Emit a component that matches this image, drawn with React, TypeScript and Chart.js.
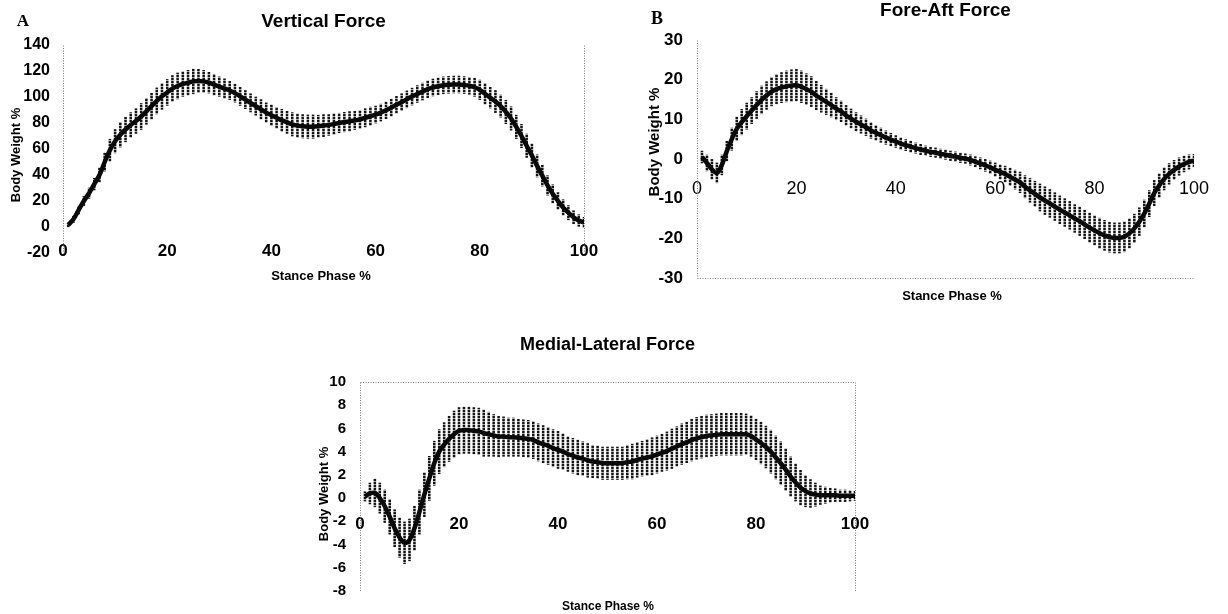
import React, { useEffect, useRef } from "react";
import { Chart, registerables } from "chart.js";

Chart.register(...registerables);

// Stance phase sample points (% of stance, 1% steps)
const stancePhase: number[] = Array.from({ length: 100 }, (_, i) => i + 1);

// Vertical ground reaction force, % body weight (mean and SD)
const verticalMean = [
  1.5, 6, 13, 20, 26, 33, 40, 50, 59, 66,
  71, 75, 78.5, 81.5, 85, 89, 93, 97, 100.5, 103.5,
  106.5, 108.5, 110, 111, 112, 112.3, 112, 111, 109.5, 108,
  106.5, 105, 103, 100.5, 98, 95.5, 93, 90.5, 88, 86,
  84, 82, 80.5, 79, 78, 77.5, 77.2, 77.2, 77.5, 78,
  78.5, 79.2, 80, 80.7, 81.3, 82, 82.7, 84, 85.2, 86.5,
  88, 89.8, 91.8, 94, 96, 98.2, 100.3, 102.3, 104.2, 106,
  107.3, 108.3, 109, 109.4, 109.6, 109.6, 109.2, 108.6, 107.5, 105.5,
  102.5, 99.5, 96.5, 93, 88.5, 83.5, 77, 70, 62.5, 55,
  47, 39.5, 32, 25.5, 20, 15, 11, 7.5, 5, 3.5,
];
const verticalSd = [
  1.5, 2.5, 3, 3.5, 4, 4.5, 5.5, 7, 8.5, 9,
  9.5, 9.5, 9.5, 9.5, 10, 10, 10, 10, 10, 10,
  10, 10, 9.5, 9.5, 9.5, 9, 8.5, 8, 8, 7.5,
  7.5, 7, 7, 7, 7, 7, 7, 7.5, 7.5, 8,
  8, 8.5, 8.5, 9, 9, 9, 9, 9, 8.5, 8.5,
  8, 8, 7.5, 7.5, 7.5, 7, 7, 7, 7, 6.5,
  6.5, 6.5, 6.5, 6.5, 6.5, 6.5, 6.5, 6.5, 6.5, 6.5,
  6.5, 6.5, 6.5, 6.5, 6.5, 6.5, 6.5, 6.5, 7, 7.5,
  8, 8, 8.5, 8.5, 9, 9, 9, 9, 9, 9,
  8.5, 8, 7.5, 7, 6.5, 6, 5.5, 5, 4.5, 4,
];

// Fore-aft ground reaction force, % body weight (mean and SD)
const foreAftMean = [
  0.5, -1, -2.6, -3.5, -1.5, 2, 5, 7.6, 9.3, 10.8,
  12.2, 13.6, 14.9, 16, 17, 17.6, 18, 18.3, 18.5, 18.6,
  18.2, 17.6, 17, 16, 15.2, 14.4, 13.6, 12.7, 12, 11,
  10.2, 9.4, 8.7, 8, 7.2, 6.6, 6, 5.4, 4.9, 4.4,
  3.9, 3.5, 3.1, 2.75, 2.4, 2.1, 1.8, 1.6, 1.3, 1.1,
  0.8, 0.6, 0.3, 0.1, -0.25, -0.7, -1.1, -1.6, -2.1, -2.7,
  -3.25, -3.8, -4.5, -5.2, -5.9, -7, -7.9, -8.8, -9.7, -10.5,
  -11.2, -12, -12.8, -13.5, -14.2, -15, -15.7, -16.5, -17.3, -18,
  -18.7, -19.25, -19.7, -19.9, -19.9, -19.6, -18.75, -17.5, -15.8, -13.75,
  -11.25, -8.6, -6.7, -5, -3.75, -2.75, -1.9, -1.25, -0.75, -0.4,
];
const foreAftSd = [
  1.5, 2, 2.5, 2.5, 2.5, 2.5, 2.8, 3, 3.2, 3.3,
  3.3, 3.4, 3.5, 3.5, 3.6, 3.7, 3.8, 3.9, 4, 4,
  4, 3.9, 3.8, 3.6, 3.4, 3.2, 3, 2.8, 2.6, 2.5,
  2.4, 2.3, 2.2, 2.1, 2, 1.9, 1.8, 1.7, 1.6, 1.5,
  1.5, 1.4, 1.4, 1.3, 1.3, 1.2, 1.2, 1.2, 1.2, 1.2,
  1.2, 1.2, 1.2, 1.2, 1.3, 1.3, 1.4, 1.5, 1.6, 1.7,
  1.8, 2, 2.2, 2.4, 2.6, 2.8, 3, 3.2, 3.4, 3.5,
  3.5, 3.5, 3.5, 3.5, 3.5, 3.5, 3.6, 3.6, 3.7, 3.7,
  3.8, 3.8, 3.8, 3.8, 3.8, 3.8, 3.7, 3.6, 3.5, 3.4,
  3.3, 3.2, 3, 2.8, 2.6, 2.4, 2.2, 2, 1.8, 1.6,
];

// Medial-lateral ground reaction force, % body weight (mean and SD)
const medialLateralMean = [
  0.15, 0.4, 0.45, 0, -0.7, -1.6, -2.6, -3.4, -3.85, -3.6,
  -2.6, -1.2, 0.3, 1.7, 3, 4, 4.6, 5.1, 5.5, 5.8,
  5.85, 5.85, 5.8, 5.75, 5.6, 5.5, 5.4, 5.3, 5.3, 5.25,
  5.25, 5.2, 5.15, 5.1, 5, 4.8, 4.65, 4.5, 4.3, 4.15,
  4, 3.8, 3.65, 3.5, 3.4, 3.25, 3.15, 3.1, 3, 3,
  3, 3, 3, 3.1, 3.15, 3.3, 3.4, 3.5, 3.6, 3.75,
  3.9, 4.05, 4.25, 4.45, 4.65, 4.8, 5, 5.15, 5.25, 5.35,
  5.4, 5.45, 5.5, 5.5, 5.5, 5.5, 5.5, 5.5, 5.35, 5.05,
  4.75, 4.4, 4, 3.5, 3, 2.45, 1.85, 1.35, 0.9, 0.6,
  0.4, 0.3, 0.25, 0.25, 0.25, 0.25, 0.2, 0.2, 0.2, 0.2,
];
const medialLateralSd = [
  0.4, 0.9, 1.2, 1.3, 1.4, 1.5, 1.6, 1.7, 1.8, 1.8,
  1.9, 1.9, 1.9, 1.9, 1.9, 1.9, 1.9, 1.95, 2, 2,
  2, 2, 2, 2, 2, 1.9, 1.8, 1.75, 1.7, 1.65,
  1.65, 1.6, 1.6, 1.6, 1.6, 1.6, 1.6, 1.6, 1.6, 1.6,
  1.55, 1.5, 1.5, 1.5, 1.45, 1.45, 1.4, 1.4, 1.4, 1.4,
  1.4, 1.4, 1.4, 1.45, 1.5, 1.5, 1.5, 1.55, 1.6, 1.6,
  1.6, 1.65, 1.7, 1.7, 1.75, 1.75, 1.8, 1.8, 1.8, 1.8,
  1.8, 1.8, 1.8, 1.8, 1.8, 1.8, 1.8, 1.75, 1.75, 1.75,
  1.8, 1.8, 1.85, 1.85, 1.85, 1.8, 1.7, 1.6, 1.5, 1.35,
  1.2, 1, 0.8, 0.7, 0.6, 0.55, 0.5, 0.5, 0.45, 0.4,
];

// Axis ranges and tick steps
const stanceTicks = { min: 0, max: 100, step: 20 };
const verticalTicks = { min: -20, max: 140, step: 20 };
const foreAftTicks = { min: -30, max: 30, step: 10 };
const medialLateralTicks = { min: -8, max: 10, step: 2 };

const SANS = "'Liberation Sans', Arial, Helvetica, sans-serif";
const SERIF = "'Liberation Serif', 'Times New Roman', serif";

type PanelSpec = {
  key: string;
  title: string;
  letter?: string;
  mean: number[];
  sd: number[];
  yRange: { min: number; max: number; step: number };
  box: { left: number; top: number; width: number; height: number };
  yAxisWidth: number;
  padRight: number;
  padBottom: number;
  titleFont: number;
  titleLineHeight: number;
  titlePad: { top: number; bottom: number };
  yTickFont: { size: number; weight: string };
  yTickPad: number;
  xTickFont: { size: number; weight: string };
  xTickPad: number;
  letterPos?: { x: number; y: number; size: number };
  yTitlePos: { x: number; y: number; size: number };
  xTitlePos: { x: number; y: number; size: number };
  frameSides: string[];
};

const panels: PanelSpec[] = [
  {
    key: "vertical",
    title: "Vertical Force",
    letter: "A",
    mean: verticalMean,
    sd: verticalSd,
    yRange: verticalTicks,
    box: { left: 0, top: 0, width: 620, height: 300 },
    yAxisWidth: 63,
    padRight: 36,
    padBottom: 47,
    titleFont: 19,
    titleLineHeight: 1.2,
    titlePad: { top: 10.6, bottom: 11.6 },
    yTickFont: { size: 16, weight: "bold" },
    yTickPad: 13,
    xTickFont: { size: 17, weight: "bold" },
    xTickPad: 14,
    letterPos: { x: 23, y: 22, size: 17 },
    yTitlePos: { x: 16, y: 155, size: 13 },
    xTitlePos: { x: 321, y: 276, size: 13 },
    frameSides: ["left", "right"],
  },
  {
    key: "foreaft",
    title: "Fore-Aft Force",
    letter: "B",
    mean: foreAftMean,
    sd: foreAftSd,
    yRange: foreAftTicks,
    box: { left: 620, top: 0, width: 608, height: 310 },
    yAxisWidth: 77,
    padRight: 20,
    padBottom: 32,
    titleFont: 19,
    titleLineHeight: 1,
    titlePad: { top: 1.5, bottom: 19.5 },
    yTickFont: { size: 17, weight: "bold" },
    yTickPad: 14,
    xTickFont: { size: 18, weight: "normal" },
    xTickPad: 19,
    letterPos: { x: 37, y: 19, size: 18 },
    yTitlePos: { x: 35, y: 142, size: 15 },
    xTitlePos: { x: 332, y: 296, size: 13 },
    frameSides: ["left", "bottom"],
  },
  {
    key: "mediallateral",
    title: "Medial-Lateral Force",
    mean: medialLateralMean,
    sd: medialLateralSd,
    yRange: medialLateralTicks,
    box: { left: 300, top: 320, width: 600, height: 294 },
    yAxisWidth: 60,
    padRight: 45,
    padBottom: 22,
    titleFont: 18,
    titleLineHeight: 1.2,
    titlePad: { top: 14.2, bottom: 26.2 },
    yTickFont: { size: 15, weight: "bold" },
    yTickPad: 14,
    xTickFont: { size: 17, weight: "bold" },
    xTickPad: 16,
    yTitlePos: { x: 24, y: 174, size: 13 },
    xTitlePos: { x: 308, y: 287, size: 12 },
    frameSides: ["top", "left", "right"],
  },
];

// Dotted vertical stroke texture for the SD whiskers
function whiskerFill(ctx: CanvasRenderingContext2D): CanvasPattern | string {
  const c = document.createElement("canvas");
  c.width = 2;
  c.height = 3;
  const g = c.getContext("2d");
  if (!g) return "#222";
  g.fillStyle = "#141414";
  g.fillRect(0, 0, 2, 2);
  g.fillStyle = "rgba(40,40,40,0.4)";
  g.fillRect(0, 2, 2, 1);
  return ctx.createPattern(c, "repeat") || "#222";
}

function ForcePanel({ spec }: { spec: PanelSpec }) {
  const ref = useRef<HTMLCanvasElement | null>(null);

  useEffect(() => {
    const canvas = ref.current;
    if (!canvas) return;
    const ctx = canvas.getContext("2d");
    if (!ctx) return;

    // Dotted plot-area frame on selected sides
    const framePlugin = {
      id: "plotFrame",
      beforeDatasetsDraw(chart: any) {
        const { left, right, top, bottom } = chart.chartArea;
        const c = chart.ctx;
        c.save();
        c.strokeStyle = "#7a7a7a";
        c.lineWidth = 1;
        c.setLineDash([1, 1.5]);
        const seg = (x1: number, y1: number, x2: number, y2: number) => {
          c.beginPath();
          c.moveTo(x1, y1);
          c.lineTo(x2, y2);
          c.stroke();
        };
        const l = Math.round(left) + 0.5;
        const r = Math.round(right) + 0.5;
        const t = Math.round(top) + 0.5;
        const b = Math.round(bottom) + 0.5;
        if (spec.frameSides.includes("left")) seg(l, t, l, b);
        if (spec.frameSides.includes("right")) seg(r, t, r, b);
        if (spec.frameSides.includes("top")) seg(l, t, r, t);
        if (spec.frameSides.includes("bottom")) seg(l, b, r, b);
        c.restore();
      },
    };

    // Panel letter and axis titles
    const labelPlugin = {
      id: "panelLabels",
      afterDraw(chart: any) {
        const c = chart.ctx;
        c.save();
        c.fillStyle = "#000";
        c.textAlign = "center";
        c.textBaseline = "middle";
        if (spec.letter && spec.letterPos) {
          c.font = `bold ${spec.letterPos.size}px ${SERIF}`;
          c.fillText(spec.letter, spec.letterPos.x, spec.letterPos.y);
        }
        c.font = `bold ${spec.xTitlePos.size}px ${SANS}`;
        c.fillText("Stance Phase %", spec.xTitlePos.x, spec.xTitlePos.y);
        c.translate(spec.yTitlePos.x, spec.yTitlePos.y);
        c.rotate(-Math.PI / 2);
        c.font = `bold ${spec.yTitlePos.size}px ${SANS}`;
        c.fillText("Body Weight %", 0, 0);
        c.restore();
      },
    };

    const meanPoints = stancePhase.map((x, i) => ({ x, y: spec.mean[i] }));
    const sdRanges = stancePhase.map((x, i) => ({
      x,
      y: [spec.mean[i] - spec.sd[i], spec.mean[i] + spec.sd[i]],
    }));

    const chart = new Chart(ctx, {
      type: "line",
      data: {
        datasets: [
          {
            type: "line",
            label: "Mean",
            data: meanPoints as any,
            borderColor: "#0a0a0a",
            borderWidth: 4.5,
            pointRadius: 0,
            tension: 0.35,
            fill: false,
            order: 0,
          },
          {
            type: "bar",
            label: "SD",
            data: sdRanges as any,
            backgroundColor: whiskerFill(ctx) as any,
            borderWidth: 0,
            barThickness: 1.9,
            grouped: false,
            order: 1,
          } as any,
        ],
      },
      options: {
        responsive: false,
        maintainAspectRatio: false,
        animation: false,
        devicePixelRatio: 1,
        events: [],
        layout: {
          padding: { left: 0, top: 0, right: spec.padRight, bottom: spec.padBottom },
        },
        plugins: {
          legend: { display: false },
          tooltip: { enabled: false },
          title: {
            display: true,
            text: spec.title,
            fullSize: false,
            color: "#000",
            font: { family: SANS, size: spec.titleFont, weight: "bold", lineHeight: spec.titleLineHeight },
            padding: spec.titlePad,
          },
        },
        scales: {
          x: {
            type: "linear",
            min: stanceTicks.min,
            max: stanceTicks.max,
            offset: false,
            position: { y: 0 } as any,
            grid: { display: false, drawTicks: false },
            border: { display: false },
            ticks: {
              stepSize: stanceTicks.step,
              autoSkip: false,
              maxRotation: 0,
              color: "#000",
              padding: spec.xTickPad,
              font: { family: SANS, size: spec.xTickFont.size, weight: spec.xTickFont.weight as any },
            },
            afterFit: (scale: any) => {
              scale.height = 0;
            },
          },
          y: {
            type: "linear",
            position: "left",
            min: spec.yRange.min,
            max: spec.yRange.max,
            grid: { display: false, drawTicks: false },
            border: { display: false },
            ticks: {
              stepSize: spec.yRange.step,
              autoSkip: false,
              color: "#000",
              padding: spec.yTickPad,
              font: { family: SANS, size: spec.yTickFont.size, weight: spec.yTickFont.weight as any },
            },
            afterFit: (scale: any) => {
              scale.width = spec.yAxisWidth;
            },
          },
        },
      } as any,
      plugins: [framePlugin, labelPlugin],
    });

    return () => chart.destroy();
  }, [spec]);

  return (
    <canvas
      ref={ref}
      width={spec.box.width}
      height={spec.box.height}
      style={{
        position: "absolute",
        left: spec.box.left,
        top: spec.box.top,
        width: spec.box.width,
        height: spec.box.height,
      }}
    />
  );
}

export default function App() {
  return (
    <div
      style={{
        position: "absolute",
        left: 0,
        top: 0,
        width: 1228,
        height: 614,
        background: "#fff",
        overflow: "hidden",
      }}
    >
      {panels.map((p) => (
        <ForcePanel key={p.key} spec={p} />
      ))}
    </div>
  );
}
